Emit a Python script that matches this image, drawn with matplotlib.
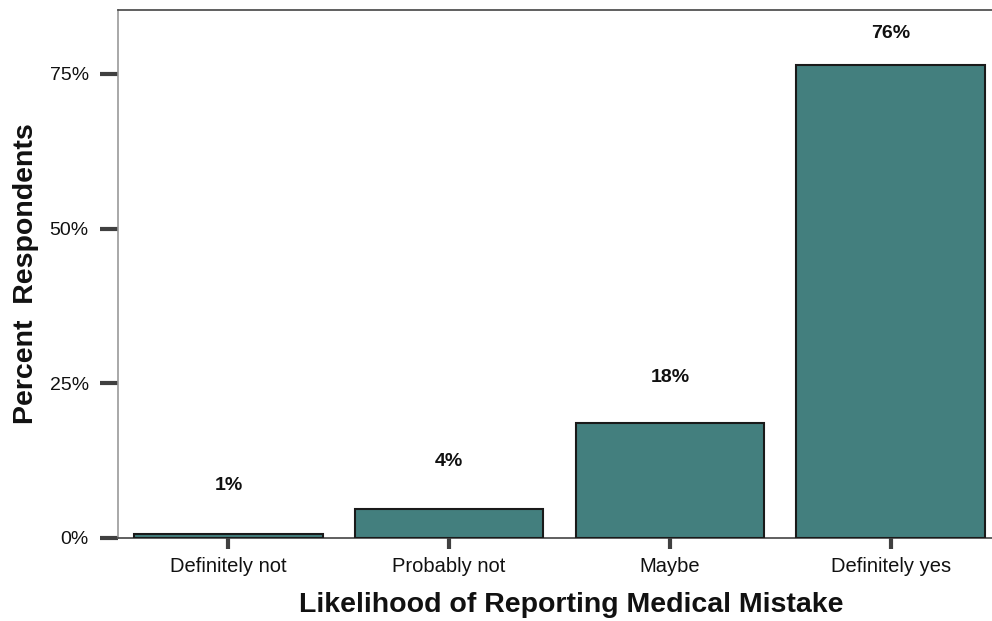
import matplotlib
matplotlib.use("Agg")
import matplotlib.pyplot as plt

categories = ["Definitely not", "Probably not", "Maybe", "Definitely yes"]
values = [0.7, 4.7, 18.5, 76.4]
value_labels = ["1%", "4%", "18%", "76%"]
yticks = [0, 25, 50, 75]
ytick_labels = ["0%", "25%", "50%", "75%"]

plt.rcParams['font.family'] = ['Liberation Sans', 'DejaVu Sans']

fig = plt.figure(figsize=(9.92, 6.21), dpi=100)
ax = fig.add_axes([118/992, 83/621, 883/992, 528/621])

x = list(range(len(categories)))
ax.bar(x, values, width=0.853, color='#437F7E', edgecolor='#1a1a1a', linewidth=1.5, zorder=3)

offsets = [48, 47, 46, 32]
for xi, v, lab, off in zip(x, values, value_labels, offsets):
    ax.annotate(lab, (xi, v), xytext=(0, off * 0.72), textcoords='offset points',
                ha='center', va='center', fontsize=14, fontweight='bold', color='#111111')

ax.set_xlim(-0.5, 3.5)
ax.set_ylim(0, 85.3)
ax.set_xticks(x)
ax.set_xticklabels(categories, fontsize=14.5, color='#111111')
ax.set_yticks(yticks)
ax.set_yticklabels(ytick_labels, fontsize=14, color='#111111')

ax.tick_params(axis='y', length=13, width=3, color='#404040', pad=8)
ax.tick_params(axis='x', length=8, width=3, color='#404040', pad=6)

for s in ['top', 'bottom']:
    ax.spines[s].set_color('#444444')
    ax.spines[s].set_linewidth(1.2)
ax.spines['left'].set_color('#999999')
ax.spines['left'].set_linewidth(1.2)
ax.spines['right'].set_visible(False)

ax.set_xlabel("Likelihood of Reporting Medical Mistake", fontsize=20.5, fontweight='bold', labelpad=11, color='#111111')
ax.xaxis.label.set_x(0.513)
ax.set_ylabel("Percent  Respondents", fontsize=20.5, fontweight='bold', labelpad=8, color='#111111')

fig.savefig("out.png", dpi=100)
